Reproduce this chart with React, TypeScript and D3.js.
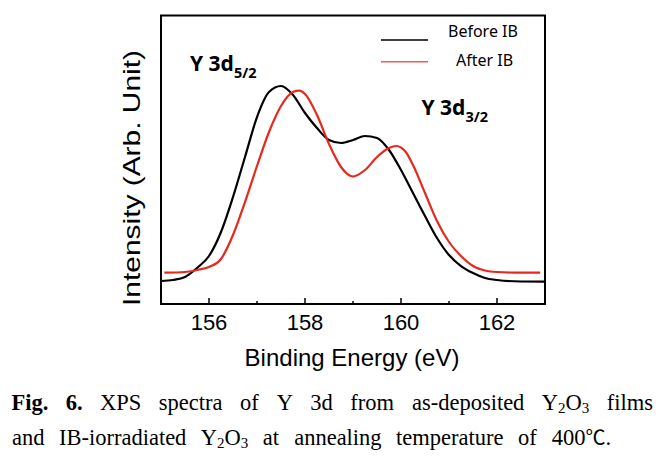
import React, { useLayoutEffect, useRef, useState } from "react";
import * as d3 from "d3";

// Binding energy (eV) and intensity (arb. units, 0–100 scale)
const beforeEnergy = [155.0, 155.25, 155.5, 155.75, 156.0, 156.25, 156.5, 156.75, 157.0, 157.25, 157.5, 157.75, 158.0, 158.25, 158.5, 158.75, 159.0, 159.25, 159.5, 159.75, 160.0, 160.25, 160.5, 160.75, 161.0, 161.25, 161.5, 161.75, 162.0, 162.5, 163.0];
const beforeIntensity = [7.97, 8.32, 9.36, 12.48, 16.64, 24.96, 37.09, 50.95, 64.81, 73.48, 75.56, 72.44, 66.2, 61.0, 56.84, 55.8, 56.84, 58.23, 57.54, 53.38, 46.44, 38.47, 30.5, 22.88, 16.98, 13.17, 10.74, 9.01, 8.32, 7.8, 7.73];
const afterEnergy = [155.07, 155.5, 155.75, 156.0, 156.25, 156.5, 156.75, 157.0, 157.25, 157.5, 157.75, 157.88, 158.0, 158.25, 158.5, 158.75, 159.0, 159.25, 159.5, 159.75, 159.9, 160.1, 160.25, 160.5, 160.75, 161.0, 161.25, 161.5, 161.75, 162.0, 162.5, 162.9];
const afterIntensity = [10.85, 11.09, 11.78, 12.82, 15.6, 23.92, 35.35, 47.83, 59.62, 68.63, 73.48, 73.93, 72.79, 65.51, 55.46, 47.48, 44.19, 46.44, 50.95, 54.07, 54.76, 52.68, 48.18, 38.47, 28.77, 21.49, 16.64, 13.17, 11.61, 11.09, 10.85, 10.85];

const majorTicks = [156, 158, 160, 162];
const minorTicks = [157, 159, 161];
const seriesNames = ["Before IB", "After IB"];

type W = { t: string; bold?: boolean };
const captionLine1: W[] = [
  { t: "Fig.", bold: true },
  { t: "6.", bold: true },
  { t: "XPS" },
  { t: "spectra" },
  { t: "of" },
  { t: "Y" },
  { t: "3d" },
  { t: "from" },
  { t: "as-deposited" },
  { t: "Y2O3" },
  { t: "films" },
];
const captionLine2: W[] = [
  { t: "and" },
  { t: "IB-iorradiated" },
  { t: "Y2O3" },
  { t: "at" },
  { t: "annealing" },
  { t: "temperature" },
  { t: "of" },
  { t: "400℃." },
];

const RED = "#e8281c";
const SERIF = "'Liberation Serif', 'Times New Roman', serif";

function JustifiedLine({ words, y, x0, x1 }: { words: W[]; y: number; x0: number; x1: number }) {
  const refs = useRef<(SVGTextElement | null)[]>([]);
  const [xs, setXs] = useState<number[]>(words.map((_, i) => x0 + i * 50));
  useLayoutEffect(() => {
    const widths = refs.current.map((el) => (el ? el.getBBox().width : 0));
    const total = widths.reduce((a, b) => a + b, 0);
    const gap = (x1 - x0 - total) / (words.length - 1);
    const out: number[] = [];
    let cur = x0;
    widths.forEach((w) => {
      out.push(cur);
      cur += w + gap;
    });
    setXs(out);
  }, []);
  return (
    <g>
      {words.map((w, i) => (
        <text
          key={i}
          ref={(el) => {
            refs.current[i] = el;
          }}
          x={xs[i]}
          y={y}
          fontFamily={SERIF}
          fontSize={22.5}
          fontWeight={w.bold ? "bold" : "normal"}
        >
          {w.t === "Y2O3" ? (
            <>
              Y<tspan fontSize={15} dy={3}>2</tspan>
              <tspan dy={-3}>O</tspan>
              <tspan fontSize={15} dy={3}>3</tspan>
            </>
          ) : w.t.endsWith("℃.") ? (
            <>
              {w.t.replace("℃.", "")}
              <tspan fontFamily="'Noto Sans CJK JP', sans-serif" fontSize={20}>℃</tspan>.
            </>
          ) : (
            w.t
          )}
        </text>
      ))}
    </g>
  );
}

export default function App() {
  const x = d3.scaleLinear().domain([155, 163]).range([161, 545]);
  const y = d3.scaleLinear().domain([0, 100]).range([304, 15.5]);
  const line = d3
    .line<[number, number]>()
    .x((d) => x(d[0]))
    .y((d) => y(d[1]))
    .curve(d3.curveMonotoneX);
  const before = line(beforeEnergy.map((e, i) => [e, beforeIntensity[i]]) as [number, number][]) || "";
  const after = line(afterEnergy.map((e, i) => [e, afterIntensity[i]]) as [number, number][]) || "";

  return (
    <svg width={664} height={462} style={{ position: "absolute", left: 0, top: 0, background: "#fff" }}>
      <rect x={0} y={0} width={664} height={462} fill="#fff" />
      <path d={before} fill="none" stroke="#000" strokeWidth={2.2} />
      <path d={after} fill="none" stroke={RED} strokeWidth={2.2} />
      <rect x={161} y={15.5} width={384} height={288.5} fill="none" stroke="#000" strokeWidth={2} />
      {majorTicks.map((t) => (
        <g key={t}>
          <line x1={x(t)} x2={x(t)} y1={304} y2={298} stroke="#000" strokeWidth={1.5} />
          <text x={x(t)} y={329.5} textAnchor="middle" fontFamily="'Liberation Sans', Arial, sans-serif" fontSize={22}>
            {t}
          </text>
        </g>
      ))}
      {minorTicks.map((t) => (
        <line key={t} x1={x(t)} x2={x(t)} y1={304} y2={301} stroke="#000" strokeWidth={1.5} />
      ))}
      <text x={352} y={366} textAnchor="middle" fontFamily="'Liberation Sans', Arial, sans-serif" fontSize={24}>
        Binding Energy (eV)
      </text>
      <text
        transform="translate(140,178) rotate(-90)"
        textAnchor="middle"
        fontFamily="'Liberation Sans', Arial, sans-serif"
        fontSize={24}
        textLength={256}
        lengthAdjust="spacingAndGlyphs"
      >
        Intensity (Arb. Unit)
      </text>
      {/* legend */}
      <line x1={381} x2={428} y1={40} y2={40} stroke="#000" strokeWidth={1.6} />
      <line x1={381} x2={428} y1={61.7} y2={61.7} stroke={RED} strokeWidth={1.6} opacity={0.75} />
      <text x={448} y={37} fontFamily="'Noto Sans', sans-serif" fontSize={16}>{seriesNames[0]}</text>
      <text x={456} y={66} fontFamily="'Noto Sans', sans-serif" fontSize={16}>{seriesNames[1]}</text>
      {/* peak annotations */}
      <text x={190} y={71} fontFamily="'Noto Sans', sans-serif" fontSize={21} fontWeight="bold">
        Y 3d<tspan fontSize={14.5} dy={7}>5/2</tspan>
      </text>
      <text x={421.5} y={115} fontFamily="'Noto Sans', sans-serif" fontSize={21} fontWeight="bold">
        Y 3d<tspan fontSize={14.5} dy={7}>3/2</tspan>
      </text>
      {/* caption */}
      <JustifiedLine words={captionLine1} y={410} x0={11.5} x1={653} />
      <JustifiedLine words={captionLine2} y={445} x0={12} x1={611} />
    </svg>
  );
}
